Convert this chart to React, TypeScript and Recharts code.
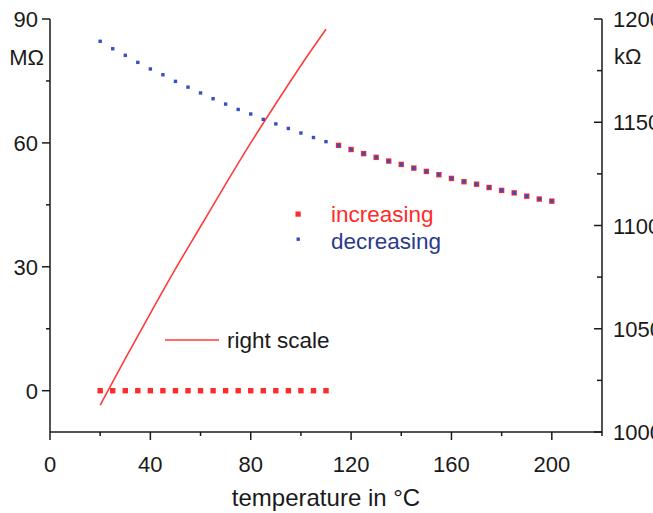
import React from "react";
import { ComposedChart, Line, XAxis, YAxis, Legend } from "recharts";

const FONT = '"Liberation Sans", Arial, sans-serif';
const AXIS = "#1a1a1a";
const RED = "#ff2a2a";
const LINE_RED = "#ff3b3b";
const BLUE = "#3550c0";
const NAVY = "#2b3a8c";

// temperature in °C, step 5
const decTemps = [
  20, 25, 30, 35, 40, 45, 50, 55, 60, 65, 70, 75, 80, 85, 90, 95, 100, 105, 110,
  115, 120, 125, 130, 135, 140, 145, 150, 155, 160, 165, 170, 175, 180, 185, 190, 195, 200,
];
// MΩ, left scale
const decValues = [
  84.6, 82.8, 81.2, 79.5, 77.9, 76.5, 74.9, 73.5, 72.1, 70.7, 69.4, 68.1, 67.0, 65.7, 64.6, 63.5, 62.4, 61.3, 60.3,
  59.4, 58.4, 57.4, 56.5, 55.6, 54.8, 53.9, 53.1, 52.3, 51.4, 50.6, 50.0, 49.2, 48.5, 47.9, 47.1, 46.4, 45.9,
];

const incTemps = [
  20, 25, 30, 35, 40, 45, 50, 55, 60, 65, 70, 75, 80, 85, 90, 95, 100, 105, 110,
  115, 120, 125, 130, 135, 140, 145, 150, 155, 160, 165, 170, 175, 180, 185, 190, 195, 200,
];
const incValues = [
  0, 0, 0, 0, 0, 0, 0, 0, 0, 0, 0, 0, 0, 0, 0, 0, 0, 0, 0,
  59.4, 58.4, 57.4, 56.5, 55.6, 54.8, 53.9, 53.1, 52.3, 51.4, 50.6, 50.0, 49.2, 48.5, 47.9, 47.1, 46.4, 45.9,
];

// kΩ, right scale
const rightTemps = [20, 30, 40, 50, 60, 70, 80, 90, 100, 110];
const rightValues = [1013, 1035.5, 1057.5, 1079, 1099.5, 1120, 1140, 1159, 1177.5, 1195];

const xTicks = [0, 20, 40, 60, 80, 100, 120, 140, 160, 180, 200, 220];
const xLabels = [0, 40, 80, 120, 160, 200];
const leftTicks = [0, 15, 30, 45, 60, 75, 90];
const leftLabels = [0, 30, 60, 90];
const rightTicks = [1000, 1025, 1050, 1075, 1100, 1125, 1150, 1175, 1200];
const rightLabels = [1000, 1050, 1100, 1150, 1200];

const decData = decTemps.map((t, i) => ({ t, v: decValues[i] }));
const incData = incTemps.map((t, i) => ({ t, v: incValues[i] }));
const rightData = rightTemps.map((t, i) => ({ t, v: rightValues[i] }));

const textStyle = { fontFamily: FONT, fontSize: 22, fill: AXIS };

function BottomTick(props: any) {
  const { x, y, payload } = props;
  const major = xLabels.includes(payload.value);
  return (
    <g>
      <line x1={x} y1={y} x2={x} y2={y + (major ? 8 : 4)} stroke={AXIS} strokeWidth={1.5} />
      {major && (
        <text x={x} y={y + 40} textAnchor="middle" {...textStyle}>
          {payload.value}
        </text>
      )}
    </g>
  );
}

function LeftTick(props: any) {
  const { x, y, payload } = props;
  const major = leftLabels.includes(payload.value);
  return (
    <g>
      <line x1={x - (major ? 8 : 4)} y1={y} x2={x} y2={y} stroke={AXIS} strokeWidth={1.5} />
      {major && (
        <text x={x - 12} y={y + 8} textAnchor="end" {...textStyle}>
          {payload.value}
        </text>
      )}
      {payload.value === 90 && (
        <text x={x - 6} y={y + 46} textAnchor="end" {...textStyle}>
          MΩ
        </text>
      )}
    </g>
  );
}

function RightTick(props: any) {
  const { x, y, payload } = props;
  const major = rightLabels.includes(payload.value);
  return (
    <g>
      <line x1={x} y1={y} x2={x - (major ? 8 : 5)} y2={y} stroke={AXIS} strokeWidth={1.5} />
      {major && (
        <text x={x + 11} y={y + 8} textAnchor="start" {...textStyle}>
          {payload.value}
        </text>
      )}
      {payload.value === 1200 && (
        <text x={x + 12} y={y + 45} textAnchor="start" {...textStyle}>
          kΩ
        </text>
      )}
    </g>
  );
}

const redSquare = (p: any) => (
  <rect key={`s${p.index}`} x={p.cx - 2.7} y={p.cy - 2.7} width={5.4} height={5.4} fill={RED} />
);
const blueDot = (p: any) => (
  <rect key={`d${p.index}`} x={p.cx - 1.7} y={p.cy - 1.7} width={3.4} height={3.4} fill={BLUE} />
);

function LegendBox() {
  return (
    <svg width={653} height={513} style={{ position: "absolute", left: 0, top: 0 }}>
      <rect x={295.5} y={211.5} width={5.2} height={5.2} fill={RED} />
      <text x={331} y={222} {...textStyle} fontSize={22.5} fill={RED}>increasing</text>
      <rect x={296.5} y={237.5} width={3.4} height={3.4} fill={BLUE} />
      <text x={331} y={249} {...textStyle} fontSize={22.5} fill={NAVY}>decreasing</text>
      <line x1={165} y1={340} x2={219} y2={340} stroke={LINE_RED} strokeWidth={1.6} />
      <text x={227} y={348} {...textStyle} fontSize={22.5}>right scale</text>
    </svg>
  );
}

export default function App() {
  return (
    <div style={{ position: "absolute", left: 0, top: 0, width: 653, height: 513, background: "#fff" }}>
      <ComposedChart width={653} height={513} margin={{ top: 19, right: 0, bottom: 0, left: 0 }}>
        <XAxis
          dataKey="t"
          type="number"
          domain={[0, 220]}
          ticks={xTicks}
          interval={0}
          tickSize={0}
          tickMargin={0}
          tickLine={false}
          tick={<BottomTick />}
          height={81}
          axisLine={{ stroke: AXIS, strokeWidth: 1.5 }}
          label={{ value: "temperature in °C", position: "insideBottom", offset: 7, ...textStyle, fontSize: 24 }}
          allowDuplicatedCategory={false}
        />
        <YAxis
          yAxisId="l"
          type="number"
          domain={[-10, 90]}
          ticks={leftTicks}
          interval={0}
          width={50}
          tickSize={0}
          tickMargin={0}
          tickLine={false}
          tick={<LeftTick />}
          axisLine={{ stroke: AXIS, strokeWidth: 1.5 }}
        />
        <YAxis
          yAxisId="r"
          orientation="right"
          type="number"
          domain={[1000, 1200]}
          ticks={rightTicks}
          interval={0}
          width={51}
          tickSize={0}
          tickMargin={0}
          tickLine={false}
          tick={<RightTick />}
          axisLine={{ stroke: AXIS, strokeWidth: 1.5 }}
        />
        <Legend
          layout="horizontal"
          verticalAlign="middle"
          wrapperStyle={{ position: "absolute", left: 0, top: 0, width: 653, height: 513 }}
          content={<LegendBox />}
        />
        <Line
          yAxisId="l"
          data={incData}
          dataKey="v"
          name="increasing"
          stroke="none"
          dot={redSquare}
          activeDot={false}
          isAnimationActive={false}
        />
        <Line
          yAxisId="l"
          data={decData}
          dataKey="v"
          name="decreasing"
          stroke="none"
          dot={blueDot}
          activeDot={false}
          isAnimationActive={false}
        />
        <Line
          yAxisId="r"
          data={rightData}
          dataKey="v"
          name="right scale"
          type="monotone"
          stroke={LINE_RED}
          strokeWidth={1.6}
          dot={false}
          activeDot={false}
          isAnimationActive={false}
        />
      </ComposedChart>
    </div>
  );
}
